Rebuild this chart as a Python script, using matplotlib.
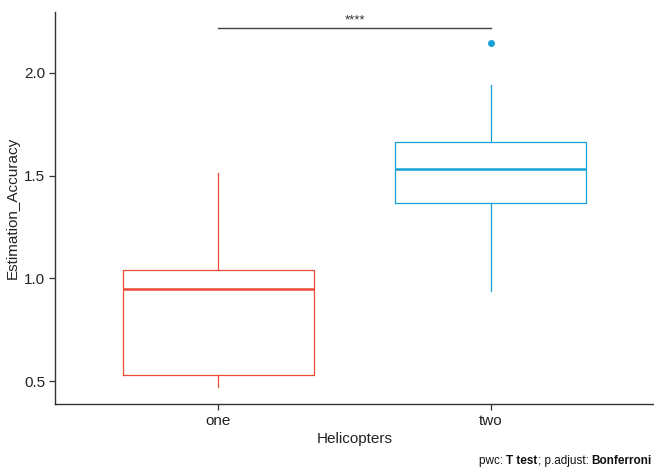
import matplotlib
matplotlib.use('Agg')
import matplotlib.pyplot as plt

plt.rcParams['font.family'] = ['Liberation Sans', 'DejaVu Sans']

groups = ['one', 'two']
q1 = [0.529, 1.365]
median = [0.946, 1.531]
q3 = [1.039, 1.662]
whisker_low = [0.47, 0.94]
whisker_high = [1.515, 1.94]
outliers = [[], [2.145]]
colors = ['#EE4B34', '#15A2D6']

sig_label = '****'
sig_y = 2.219

fig = plt.figure(figsize=(6.54, 4.70), dpi=100)
ax = fig.add_axes([0.0841, 0.1404, 0.9159, 0.8341])

stats = []
for i, g in enumerate(groups):
    stats.append({'label': g, 'q1': q1[i], 'med': median[i], 'q3': q3[i],
                  'whislo': whisker_low[i], 'whishi': whisker_high[i],
                  'fliers': outliers[i]})

positions = list(range(1, len(groups) + 1))
for i, s in enumerate(stats):
    c = colors[i]
    ax.bxp([s], positions=[positions[i]], widths=0.7, showcaps=False,
           boxprops=dict(color=c, linewidth=0.9),
           whiskerprops=dict(color=c, linewidth=0.9),
           medianprops=dict(color=c, linewidth=1.8),
           flierprops=dict(marker='o', markerfacecolor=c, markeredgecolor=c,
                           markersize=4))

# significance bracket between the groups
ax.plot([positions[0], positions[1]], [sig_y, sig_y], color='#444444', lw=1.0)
ax.text(sum(positions) / 2, sig_y + 0.006, sig_label, ha='center', va='bottom',
        fontsize=9.5, color='#333333')

ax.set_xlim(0.4, 2.6)
ax.set_ylim(0.388, 2.297)
ax.set_yticks([0.5, 1.0, 1.5, 2.0])
ax.set_xticks(positions)
ax.set_xticklabels(groups)

for side in ['top', 'right']:
    ax.spines[side].set_visible(False)
for side in ['left', 'bottom']:
    ax.spines[side].set_color('#333333')
    ax.spines[side].set_linewidth(1.0)
ax.tick_params(axis='both', direction='out', length=4, width=0.9,
               color='#333333', labelsize=11, labelcolor='#222222', pad=3)

ax.set_xlabel('Helicopters', fontsize=11, color='#222222', labelpad=3)
ax.set_ylabel('Estimation_Accuracy', fontsize=11, color='#222222', labelpad=3)

# caption with bold parts, laid out left to right then right-aligned
parts = [('pwc: ', 'normal'), ('T test', 'bold'), ('; p.adjust: ', 'normal'),
         ('Bonferroni', 'bold')]
renderer = fig.canvas.get_renderer()
x = 0
texts = []
for s, w in parts:
    t = fig.text(x, 6 / 470, s, fontsize=8.5, fontweight=w, color='#111111',
                 ha='left', va='baseline')
    bb = t.get_window_extent(renderer)
    texts.append((t, x))
    x += bb.width / fig.bbox.width
shift = (652 / 654) - x
for t, x0 in texts:
    t.set_x(x0 + shift)

fig.savefig('out.png', dpi=100)
